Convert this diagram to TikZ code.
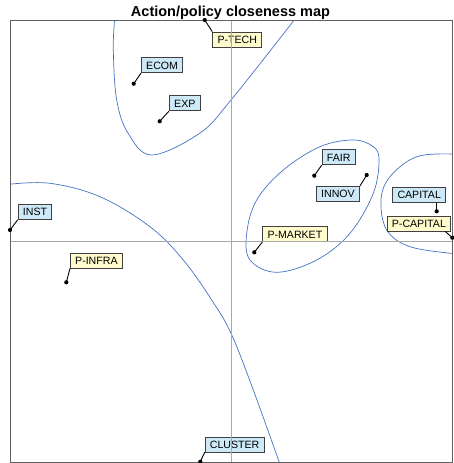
\documentclass[tikz,border=0pt]{standalone}
\usepackage{fontspec}
\setmainfont{Liberation Sans}
\definecolor{cblue}{HTML}{4472C4}
\definecolor{lblue}{HTML}{CDE9F7}
\definecolor{lyel}{HTML}{FFFBCC}
\definecolor{frame}{HTML}{606060}
\definecolor{axis}{HTML}{A8A8A8}
\begin{document}
\begin{tikzpicture}[x=1pt,y=-1pt,
  lab/.style={draw=black!75,line width=0.8pt,inner xsep=4.8pt,inner ysep=0pt,minimum height=15pt,font=\fontsize{10.6}{11}\selectfont,text height=7.8pt,text depth=0pt},
  bl/.style={lab,fill=lblue},
  yl/.style={lab,fill=lyel},
  lead/.style={draw=black,line width=0.9pt},
  dot/.style={circle,fill=black,inner sep=0pt,minimum size=4.2pt},
  clus/.style={draw=cblue,line width=0.7pt}]
\useasboundingbox (0,0) rectangle (453,463);
% title
\node[font=\fontsize{14.5}{16}\selectfont\bfseries,anchor=base] (title) at (230.5,16.7) {Action/policy closeness map};
% clusters
\begin{scope}
\clip (10,20) rectangle (452,462);
\draw[clus] plot[smooth,tension=0.6] coordinates {(114.7,19) (113.3,50) (116.7,100) (128,133) (151.7,155) (200,133) (231,100) (295,19)};
\draw[clus] plot[smooth cycle,tension=0.6] coordinates {(353.3,140) (373.3,146.7) (379,160) (373.3,193.3) (350,233.3) (316.7,260) (276.7,272.3) (250,260) (246.7,233.3) (256.7,200) (283.3,170) (320,146.7)};
\draw[clus] plot[smooth,tension=0.6] coordinates {(453,154) (416.7,156.7) (390,176.7) (381,200) (386.7,230) (410,246.7) (453,253.5)};
\draw[clus] plot[smooth,tension=0.6] coordinates {(9,184.3) (50,183.3) (100,196.7) (150,226.7) (183.3,260) (211.7,300) (231,333.3) (253.3,390) (279.5,463)};
\end{scope}
% label boxes
\node[yl,anchor=north west] (ptech) at (212.3,31.7) {P-TECH};
\node[bl,anchor=north west] (ecom) at (141,57.3) {ECOM};
\node[bl,anchor=north west] (exp) at (169,95.3) {EXP};
\node[bl,anchor=north west] (fair) at (321.7,149.3) {FAIR};
\node[bl,anchor=north west] (innov) at (316,186) {INNOV};
\node[bl,anchor=north west] (capital) at (392.3,186.7) {CAPITAL};
\node[yl,anchor=north west] (pcapital) at (386.7,215.5) {P-CAPITAL};
\node[yl,anchor=north west] (pmarket) at (262.3,226.2) {P-MARKET};
\node[bl,anchor=north west] (inst) at (17.7,204) {INST};
\node[yl,anchor=north west] (pinfra) at (70,252.7) {P-INFRA};
\node[bl,anchor=north west] (cluster) at (204.7,436.5) {CLUSTER};
% axes and frame
\draw[axis,line width=0.8pt] (231,20) -- (231,462);
\draw[axis,line width=0.8pt] (10,241) -- (452,241);
\draw[frame,line width=1pt] (10,20) rectangle (452,462);
% points and leaders
\node[dot] (dptech) at (204.7,20) {};
\node[dot] (decom) at (133.7,83.7) {};
\node[dot] (dexp) at (159.7,121.3) {};
\node[dot] (dfair) at (314.3,175.7) {};
\node[dot] (dinnov) at (366.7,175) {};
\node[dot] (dcapital) at (436.7,211.3) {};
\node[dot] (dpcapital) at (452.3,237.7) {};
\node[dot] (dpmarket) at (254.3,252.3) {};
\node[dot] (dinst) at (10,230) {};
\node[dot] (dpinfra) at (66.3,282.3) {};
\node[dot] (dcluster) at (200.3,461.7) {};
\draw[lead] (dptech.center) -- (ptech.north west);
\draw[lead] (decom.center) -- (ecom.south west);
\draw[lead] (dexp.center) -- (exp.south west);
\draw[lead] (dfair.center) -- (fair.south west);
\draw[lead] (dinnov.center) -- (innov.north east);
\draw[lead] (dcapital.center) -- (dcapital.center |- capital.south);
\draw[lead] (dpcapital.center) -- ([xshift=-6pt]pcapital.south east);
\draw[lead] (dpmarket.center) -- (pmarket.south west);
\draw[lead] (dinst.center) -- (inst.south west);
\draw[lead] (dpinfra.center) -- (pinfra.south west);
\draw[lead] (dcluster.center) -- (cluster.south west);
\end{tikzpicture}
\end{document}
